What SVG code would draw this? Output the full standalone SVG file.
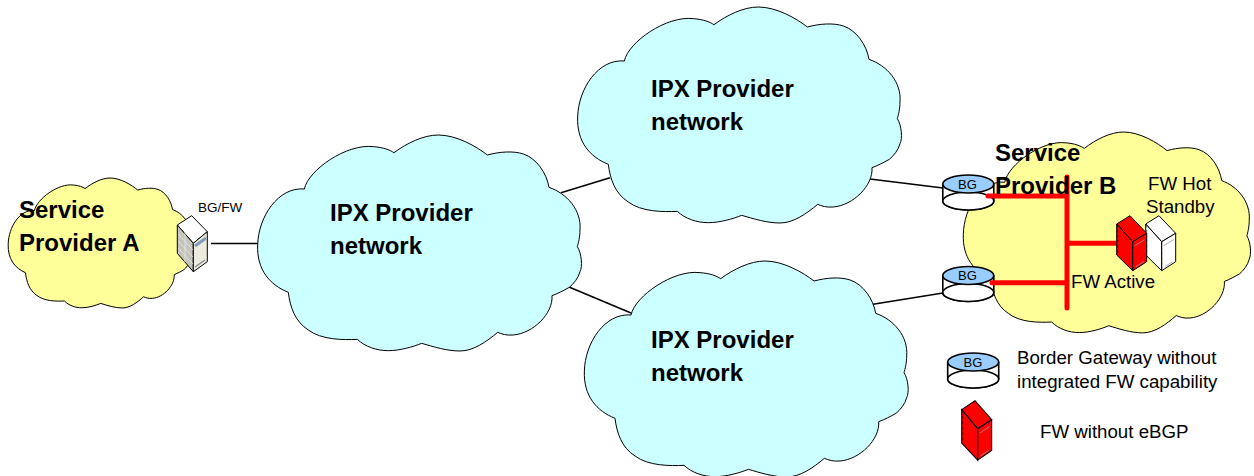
<svg xmlns="http://www.w3.org/2000/svg" width="1254" height="476" viewBox="0 0 1254 476">
<style>
text{font-family:"Liberation Sans",Arial,sans-serif;fill:#000}
.h{font-size:24px;font-weight:700}
.s{font-size:18.700px}
.bg{font-size:13px;text-anchor:middle}
#cloud{stroke:#000;stroke-width:1;vector-effect:non-scaling-stroke}
.ipx{fill:#ccffff}
.sp{fill:#ffff99}
.link{stroke:#000;stroke-width:1.500;fill:none}
.red{stroke:#ff0000;stroke-width:5;fill:none;stroke-linecap:round}
.e{stroke:#000;stroke-width:1.600}
.edge{stroke:#000;stroke-width:1}
.fr{fill:#ff0000}
.fw{fill:#ffffff}
</style>
<defs>
<path id="cloud" d="M163 177C175 120 290 40 370 50C400 52 420 60 432 68C470 40 520 15 565 15C620 15 680 50 712 75C750 65 790 62 820 72C860 85 890 130 897 172C950 190 995 240 990 300C990 320 985 340 982 350C995 370 998 410 990 425C985 445 970 462 958 472C940 482 925 490 906 497C910 550 850 610 790 615C770 617 755 612 743 607C710 635 670 663 630 663C590 663 550 650 515 640C490 650 450 662 415 662C380 662 345 650 322 628C280 630 215 630 175 600C135 575 120 530 115 487C60 465 20 420 23 345C25 260 85 170 163 177Z"/>
<g id="cyl">
<path d="M-25.500 0V17A25.500 9 0 0 0 25.500 17V0" fill="#fff" class="e"/>
<ellipse cx="0" cy="17" rx="25.500" ry="9" fill="#fff" class="e"/>
<ellipse cx="0" cy="0" rx="25.500" ry="9" fill="#99ccff" class="e"/>
</g>
<g id="srv">
<polygon points="0,8.300 13.300,0 30,17.600 16,26" class="edge"/>
<polygon points="0,8.300 16,26 16,55 0,39.300" class="edge"/>
<polygon points="16,26 30,17.600 30,46 16,55" class="edge"/>
<path d="M18 30L28 24M19 51L27 46" stroke="#999" stroke-width=".8" fill="none"/>
<path d="M1 9V39M16 26V55" stroke="#000" stroke-width=".5" stroke-dasharray="3 2" fill="none"/>
</g>
</defs>

<g id="connectors">
<path class="link" d="M211 243.500H258"/>
<path class="link" d="M561 192.700L610 177.700"/>
<path class="link" d="M569 287L631 313"/>
<path class="link" d="M870 179L943 188"/>
<path class="link" d="M871.500 304.500L943 293"/>
</g>

<g id="cloud-ipx-left"><use href="#cloud" class="ipx" transform="translate(250 130) scale(.33333)"/>
<text class="h" x="330" y="221">IPX Provider</text><text class="h" x="330" y="254">network</text></g>
<g id="cloud-ipx-top"><use href="#cloud" class="ipx" transform="translate(570 2) scale(.33333)"/>
<text class="h" x="651" y="97">IPX Provider</text><text class="h" x="651" y="130">network</text></g>
<g id="cloud-ipx-bottom"><use href="#cloud" class="ipx" transform="translate(576.700 256) scale(.33333)"/>
<text class="h" x="651" y="348">IPX Provider</text><text class="h" x="651" y="381">network</text></g>

<g id="provider-a"><use href="#cloud" class="sp" transform="translate(3.860 175) scale(.188 .2006)"/>
<text class="h" x="19" y="218">Service</text><text class="h" x="19" y="251">Provider A</text></g>

<g id="provider-b-cloud"><use href="#cloud" class="sp" transform="translate(956.500 127.350) scale(.2957 .31)"/></g>

<g id="bgfw">
<polygon points="177.300,225 191.700,215.700 207.300,231.700 193.300,243.300" fill="#fff" class="edge"/>
<polygon points="177.300,225 193.300,243.300 193.300,271.700 177.300,253.300" fill="#c4c4bc" class="edge"/>
<polygon points="193.300,243.300 207.300,231.700 207.300,261.700 193.300,271.700" fill="#ecebdd" class="edge"/>
<path d="M195 246L206 238" stroke="#7f9db9" stroke-width="3" fill="none"/>
<path d="M195 267L205 260" stroke="#888" stroke-width="1.500" fill="none"/>
<path d="M178 234L193 250M178 241L193 257M178 248L193 264M185 232V262" stroke="#e8e8e8" stroke-width=".8" fill="none"/>
<text x="198" y="212" font-size="13.500">BG/FW</text>
</g>

<g id="bg-1"><use href="#cyl" x="968.300" y="184"/><text class="bg" x="967.500" y="188.500">BG</text></g>
<g id="bg-2"><use href="#cyl" x="968.300" y="275.500"/><text class="bg" x="967.500" y="279.500">BG</text></g>

<g id="red-links">
<path class="red" d="M988 196H1067M1067 177V308M1067 243.300H1117M992 282.700H1067"/>
</g>

<g id="fw-standby"><use href="#srv" class="fw" x="1145.700" y="215.700"/></g>
<g id="fw-active"><use href="#srv" class="fr" x="1116.700" y="215.700"/></g>

<g id="provider-b-labels">
<text class="h" x="995" y="161">Service</text><text class="h" x="995" y="194">Provider B</text>
<text class="s" x="1148" y="190">FW Hot</text><text class="s" x="1146" y="213">Standby</text>
<text class="s" x="1071" y="288">FW Active</text>
</g>

<g id="legend-bg"><use href="#cyl" x="973.200" y="362"/><text class="bg" x="973" y="367">BG</text>
<text class="s" x="1017" y="364">Border Gateway without</text><text class="s" x="1017" y="388">integrated FW capability</text></g>
<g id="legend-fw"><g transform="translate(961.700 400.700) scale(1 1.080)"><use href="#srv" class="fr"/></g>
<text class="s" x="1040" y="438">FW without eBGP</text></g>
</svg>
